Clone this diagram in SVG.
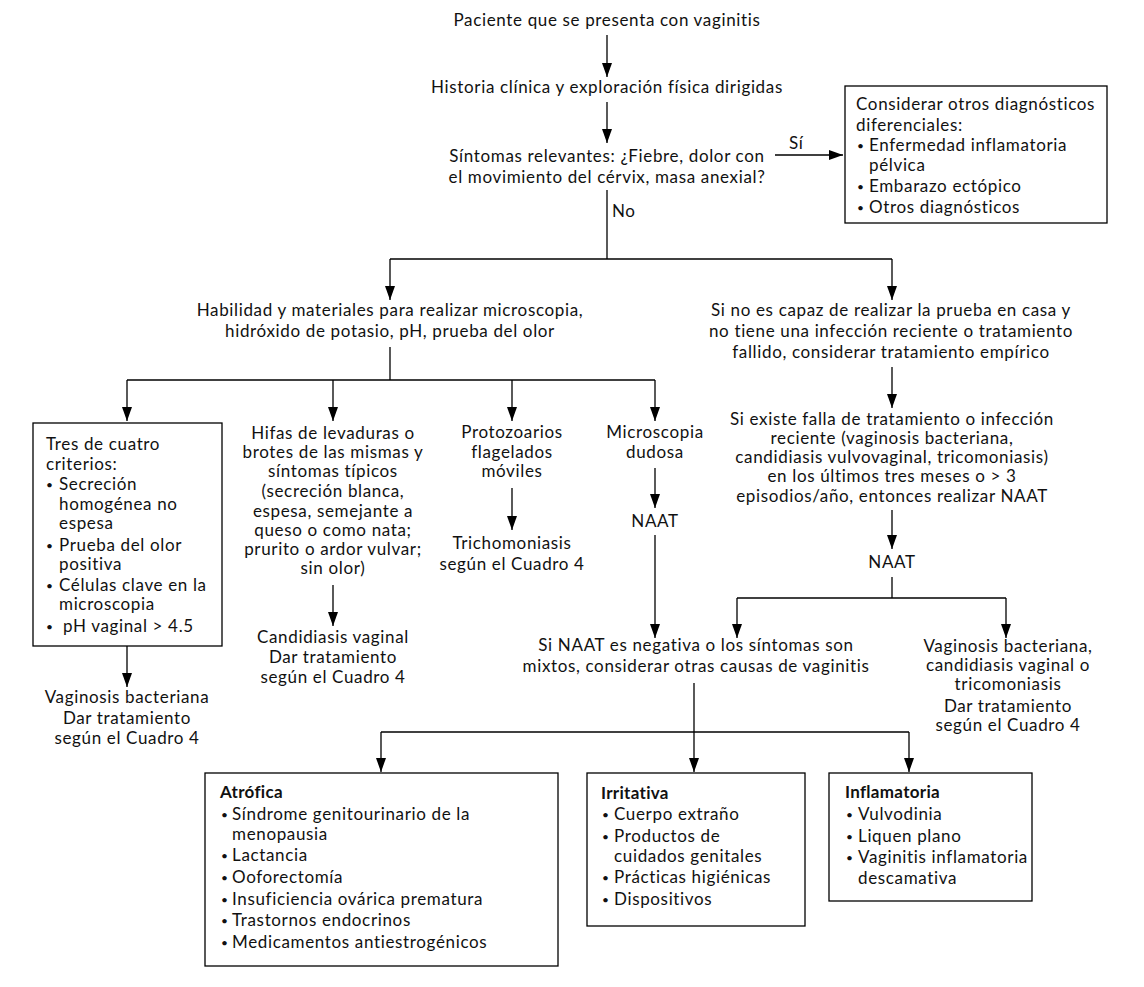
<svg xmlns="http://www.w3.org/2000/svg" width="1144" height="987" viewBox="0 0 1144 987">
<defs>
<marker id="ah" viewBox="0 0 14 10" refX="14" refY="5" markerWidth="14" markerHeight="10" orient="auto" markerUnits="userSpaceOnUse">
<path d="M0,0 L14,5 L0,10 z" fill="#000"/>
</marker>
<style>
text{font-family:Lato,"Open Sans","Liberation Sans",sans-serif;font-size:17px;letter-spacing:0.65px;fill:#111}
.c{text-anchor:middle}
.b{font-weight:bold;letter-spacing:0.3px}
.bu{font-size:12px;letter-spacing:0}
.box{fill:#fff;stroke:#000;stroke-width:1.3}
.ln{fill:none;stroke:#000;stroke-width:1.3}
.ar{fill:none;stroke:#000;stroke-width:1.3;marker-end:url(#ah)}
</style>
</defs>
<rect width="1144" height="987" fill="#fff"/>
<g id="connectors">
<line class="ar" x1="607" y1="35" x2="607" y2="77"/>
<line class="ar" x1="607" y1="102" x2="607" y2="143"/>
<line class="ar" x1="775" y1="155" x2="843" y2="155"/>
<line class="ln" x1="607" y1="190" x2="607" y2="259"/>
<line class="ln" x1="390" y1="259" x2="892" y2="259"/>
<line class="ar" x1="390" y1="259" x2="390" y2="300"/>
<line class="ar" x1="892" y1="259" x2="892" y2="300"/>
<line class="ln" x1="390" y1="347" x2="390" y2="380"/>
<line class="ln" x1="127" y1="380" x2="655" y2="380"/>
<line class="ar" x1="127" y1="380" x2="127" y2="421"/>
<line class="ar" x1="333" y1="380" x2="333" y2="421"/>
<line class="ar" x1="512" y1="380" x2="512" y2="421"/>
<line class="ar" x1="655" y1="380" x2="655" y2="421"/>
<line class="ar" x1="892" y1="367" x2="892" y2="408"/>
<line class="ar" x1="892" y1="510" x2="892" y2="549"/>
<line class="ln" x1="892" y1="577" x2="892" y2="598"/>
<line class="ln" x1="737" y1="598" x2="1006" y2="598"/>
<line class="ar" x1="737" y1="598" x2="737" y2="638"/>
<line class="ar" x1="1006" y1="598" x2="1006" y2="638"/>
<line class="ar" x1="127" y1="646" x2="127" y2="687"/>
<line class="ar" x1="333" y1="585" x2="333" y2="626"/>
<line class="ar" x1="512" y1="488" x2="512" y2="530"/>
<line class="ar" x1="655" y1="468" x2="655" y2="508"/>
<line class="ar" x1="655" y1="535" x2="655" y2="638"/>
<line class="ln" x1="694" y1="683" x2="694" y2="732"/>
<line class="ln" x1="381" y1="732" x2="909" y2="732"/>
<line class="ar" x1="381" y1="732" x2="381" y2="772"/>
<line class="ar" x1="694" y1="732" x2="694" y2="772"/>
<line class="ar" x1="909" y1="732" x2="909" y2="772"/>
<text x="789" y="149">Sí</text>
<text x="612" y="217">No</text>
</g>
<g id="n-start"><text class="c" x="607" y="26">Paciente que se presenta con vaginitis</text></g>
<g id="n-historia"><text class="c" x="607" y="93">Historia clínica y exploración física dirigidas</text></g>
<g id="n-sintomas"><text class="c" x="607" y="162">Síntomas relevantes: ¿Fiebre, dolor con</text><text class="c" x="607" y="183">el movimiento del cérvix, masa anexial?</text></g>
<g id="n-otros">
<rect class="box" x="845" y="86" width="262" height="137"/>
<text x="856" y="110">Considerar otros diagnósticos</text>
<text x="856" y="131">diferenciales:</text>
<text class="bu" x="857" y="150">•</text><text x="869" y="151">Enfermedad inflamatoria</text>
<text x="869" y="171">pélvica</text>
<text class="bu" x="857" y="191">•</text><text x="869" y="192">Embarazo ectópico</text>
<text class="bu" x="857" y="212">•</text><text x="869" y="213">Otros diagnósticos</text>
</g>
<g id="n-habilidad"><text class="c" x="390" y="316">Habilidad y materiales para realizar microscopia,</text><text class="c" x="390" y="337">hidróxido de potasio, pH, prueba del olor</text></g>
<g id="n-empirico"><text class="c" x="891" y="316">Si no es capaz de realizar la prueba en casa y</text><text class="c" x="891" y="337">no tiene una infección reciente o tratamiento</text><text class="c" x="891" y="358">fallido, considerar tratamiento empírico</text></g>
<g id="n-falla">
<text class="c" x="892" y="425">Si existe falla de tratamiento o infección</text>
<text class="c" x="892" y="444">reciente (vaginosis bacteriana,</text>
<text class="c" x="892" y="463">candidiasis vulvovaginal, tricomoniasis)</text>
<text class="c" x="892" y="482">en los últimos tres meses o &gt; 3</text>
<text class="c" x="892" y="502">episodios/año, entonces realizar NAAT</text>
</g>
<g id="n-naat2"><text class="c" x="892" y="568">NAAT</text></g>
<g id="n-criterios">
<rect class="box" x="33" y="423" width="189" height="223"/>
<text x="46" y="450">Tres de cuatro</text>
<text x="46" y="470">criterios:</text>
<text class="bu" x="46" y="489">•</text><text x="59" y="490">Secreción</text>
<text x="59" y="510">homogénea no</text>
<text x="59" y="529">espesa</text>
<text class="bu" x="46" y="550">•</text><text x="59" y="551">Prueba del olor</text>
<text x="59" y="570">positiva</text>
<text class="bu" x="46" y="590">•</text><text x="59" y="591">Células clave en la</text>
<text x="59" y="610">microscopia</text>
<text class="bu" x="46" y="631">•</text><text x="63" y="632">pH vaginal &gt; 4.5</text>
</g>
<g id="n-vb"><text class="c" x="127" y="703">Vaginosis bacteriana</text><text class="c" x="127" y="724">Dar tratamiento</text><text class="c" x="127" y="744">según el Cuadro 4</text></g>
<g id="n-hifas">
<text class="c" x="333" y="439">Hifas de levaduras o</text>
<text class="c" x="333" y="458">brotes de las mismas y</text>
<text class="c" x="333" y="477">síntomas típicos</text>
<text class="c" x="333" y="497">(secreción blanca,</text>
<text class="c" x="333" y="517">espesa, semejante a</text>
<text class="c" x="333" y="536">queso o como nata;</text>
<text class="c" x="333" y="555">prurito o ardor vulvar;</text>
<text class="c" x="333" y="574">sin olor)</text>
</g>
<g id="n-candidiasis"><text class="c" x="333" y="643">Candidiasis vaginal</text><text class="c" x="333" y="663">Dar tratamiento</text><text class="c" x="333" y="683">según el Cuadro 4</text></g>
<g id="n-protozoarios"><text class="c" x="512" y="438">Protozoarios</text><text class="c" x="512" y="458">flagelados</text><text class="c" x="512" y="477">móviles</text></g>
<g id="n-tricho"><text class="c" x="512" y="549">Trichomoniasis</text><text class="c" x="512" y="570">según el Cuadro 4</text></g>
<g id="n-dudosa"><text class="c" x="655" y="438">Microscopia</text><text class="c" x="655" y="458">dudosa</text></g>
<g id="n-naat1"><text class="c" x="655" y="527">NAAT</text></g>
<g id="n-negativa"><text class="c" x="696" y="651">Si NAAT es negativa o los síntomas son</text><text class="c" x="696" y="672">mixtos, considerar otras causas de vaginitis</text></g>
<g id="n-positiva">
<text class="c" x="1008" y="652">Vaginosis bacteriana,</text>
<text class="c" x="1008" y="671">candidiasis vaginal o</text>
<text class="c" x="1008" y="690">tricomoniasis</text>
<text class="c" x="1008" y="712">Dar tratamiento</text>
<text class="c" x="1008" y="731">según el Cuadro 4</text>
</g>
<g id="n-atrofica">
<rect class="box" x="205" y="773" width="353" height="193"/>
<text class="b" x="220" y="798">Atrófica</text>
<text class="bu" x="221" y="819">•</text><text x="232" y="820">Síndrome genitourinario de la</text>
<text x="232" y="840">menopausia</text>
<text class="bu" x="221" y="860">•</text><text x="232" y="861">Lactancia</text>
<text class="bu" x="221" y="882">•</text><text x="232" y="883">Ooforectomía</text>
<text class="bu" x="221" y="904">•</text><text x="232" y="905">Insuficiencia ovárica prematura</text>
<text class="bu" x="221" y="925">•</text><text x="232" y="926">Trastornos endocrinos</text>
<text class="bu" x="221" y="947">•</text><text x="232" y="948">Medicamentos antiestrogénicos</text>
</g>
<g id="n-irritativa">
<rect class="box" x="587" y="773" width="218" height="153"/>
<text class="b" x="601" y="799">Irritativa</text>
<text class="bu" x="602" y="819">•</text><text x="614" y="820">Cuerpo extraño</text>
<text class="bu" x="602" y="841">•</text><text x="614" y="842">Productos de</text>
<text x="614" y="862">cuidados genitales</text>
<text class="bu" x="602" y="882">•</text><text x="614" y="883">Prácticas higiénicas</text>
<text class="bu" x="602" y="904">•</text><text x="614" y="905">Dispositivos</text>
</g>
<g id="n-inflamatoria">
<rect class="box" x="829" y="773" width="203" height="128"/>
<text class="b" x="845" y="798">Inflamatoria</text>
<text class="bu" x="846" y="819">•</text><text x="858" y="820">Vulvodinia</text>
<text class="bu" x="846" y="841">•</text><text x="858" y="842">Liquen plano</text>
<text class="bu" x="846" y="862">•</text><text x="858" y="863">Vaginitis inflamatoria</text>
<text x="858" y="884">descamativa</text>
</g>
</svg>
